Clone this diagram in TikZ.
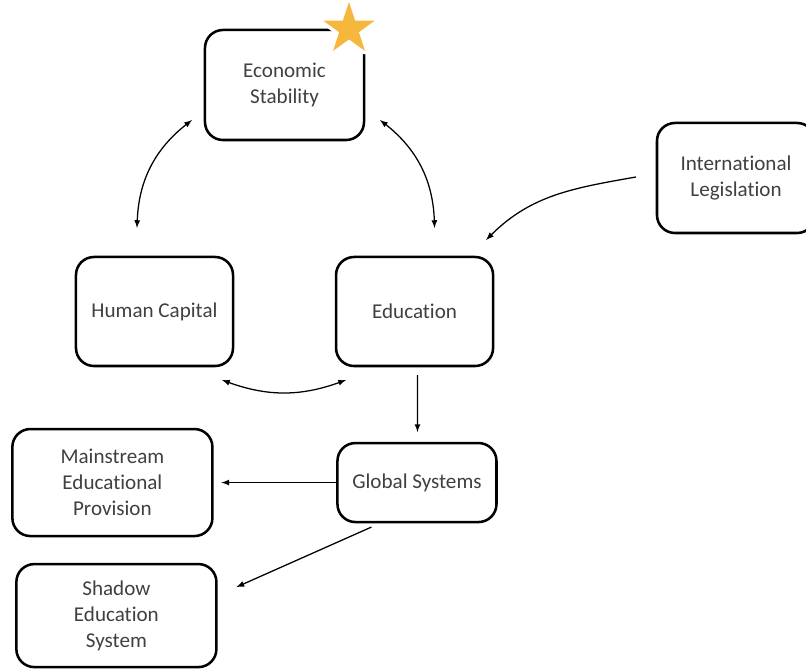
\documentclass[tikz,border=0pt]{standalone}
\usepackage{fontspec}
\setmainfont{Carlito}[RawFeature={-liga;-clig;-calt;-dlig}]
\usepackage{tikz}
\usetikzlibrary{arrows, shapes.geometric, positioning}
\definecolor{textgrey}{HTML}{404040}
\definecolor{stargold}{HTML}{F5B83D}

\begin{document}
\begin{tikzpicture}[x=0.025cm, y=0.025cm,
    block/.style={draw, rounded corners=0.45cm, line width=1.8pt, minimum width=3.925cm, minimum height=2.725cm,
        align=center, inner sep=2pt, outer sep=0pt, text=textgrey, font=\fontsize{15}{18.5}\selectfont},
    arr/.style={-latex, line width=0.9pt},
    dbl/.style={latex-latex, line width=0.9pt}]
    \useasboundingbox (0,0) rectangle (806,671);

    \node[block, minimum width=3.975cm, minimum height=2.75cm] (econ) at (284.5,586) {Economic\\Stability};
    \node[block] (hc) at (154.5,359.5) {Human Capital};
    \node[block, right=2.575cm of hc] (edu) {Education};
    \node[block, minimum width=3.95cm, minimum height=2.75cm] (intl) at (736,493) {International\\Legislation};
    \node[block, minimum width=3.975cm, minimum height=1.975cm, below=1.925cm of edu, xshift=0.06cm] (glob) {Global Systems};
    \node[block, minimum width=5cm, minimum height=2.675cm, left=3.125cm of glob] (main) {Mainstream\\Educational\\Provision};
    \node[block, minimum width=5cm, minimum height=2.575cm, below=0.7cm of main, xshift=0.1cm] (shadow) {Shadow\\Education\\System};

    % star on the corner of the top box
    \node[star, star points=5, star point ratio=2.6, fill=stargold, inner sep=0pt, minimum size=1.35cm,
        preaction={draw=white, line width=5pt, line join=round}] (badge) at (349,642) {};

    \draw[dbl] ([shift={(-13,20)}]econ.south west) to[bend right=25] ([shift={(-17.5,29)}]hc.north);
    \draw[dbl] ([shift={(16,20)}]econ.south east) to[bend left=25] ([shift={(20,29)}]edu.north);
    \draw[dbl] ([shift={(-11,-14)}]hc.south east) to[bend right=20] ([shift={(10,-14)}]edu.south west);
    \draw[arr] ([shift={(3,-9)}]edu.south) -- ([shift={(0.5,11)}]glob.north);
    \draw[arr] ([shift={(-21,1)}]intl.west) to[out=190, in=45] ([shift={(-7,17)}]edu.north east);
    \draw[arr, shorten >=0.225cm] (glob.west) -- (glob.west -| main.east);
    \draw[arr] ([shift={(34,-5)}]glob.south west) -- ([shift={(20,-23)}]shadow.north east);
\end{tikzpicture}
\end{document}
